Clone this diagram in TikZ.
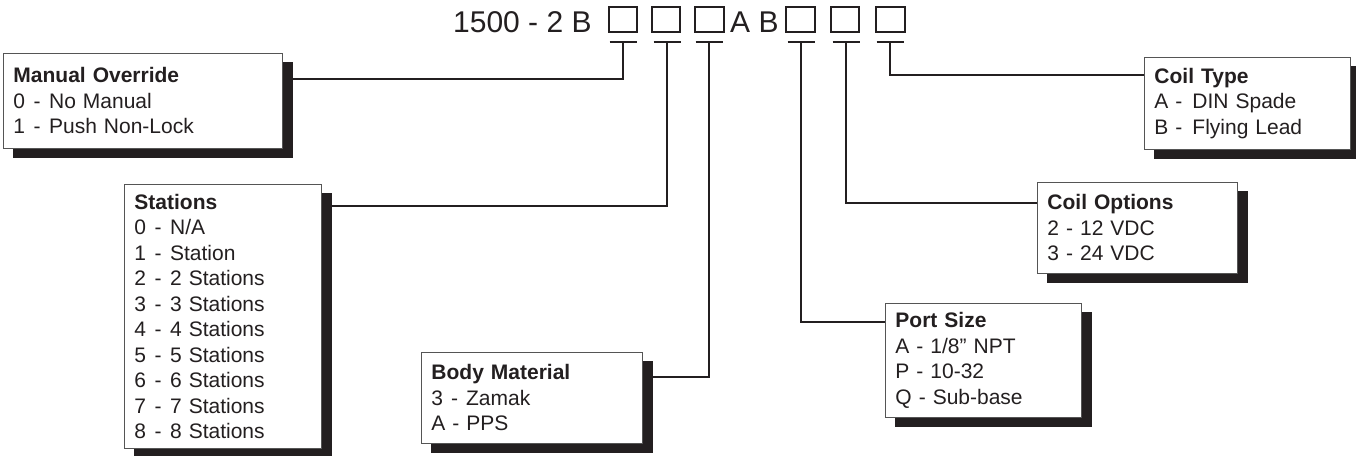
\documentclass[tikz,border=0pt]{standalone}
\usepackage{fontspec}
\setmainfont{Liberation Sans}
\usetikzlibrary{shadows}
\definecolor{ink}{HTML}{231F20}
\definecolor{frame}{HTML}{555555}
\newcommand\dsep{\hspace{8.5pt}-\hspace{8.5pt}}
\begin{document}
\begin{tikzpicture}[x=1pt,y=-1pt,
  every node/.style={text=ink},
  optbox/.style={draw=frame, line width=0.9pt, fill=white, anchor=north west,
    align=left, inner xsep=10pt, inner ysep=0pt,
    font=\fontsize{21}{25.5}\selectfont,
    general shadow={fill=ink, draw=ink, shadow xshift=10pt, shadow yshift=-9pt}},
  conn/.style={draw=ink, line width=2pt},
  sq/.style={draw=ink, line width=1.7pt, minimum width=28.5pt, minimum height=25pt, inner sep=0pt},
  code/.style={font=\fontsize{30}{30}\selectfont, anchor=base west, inner sep=0pt}]
\useasboundingbox (0,0) rectangle (1356,455);

% code line
\node[code] (t1) at (453,32) {1500 - 2 B};
\node[code] (t2) at (730,32) {A B};
\node[sq] (q1) at (623,19.5) {};
\node[sq] (q2) at (666,19.5) {};
\node[sq] (q3) at (709.5,19.5) {};
\node[sq] (q4) at (800.5,19.5) {};
\node[sq] (q5) at (845,19.5) {};
\node[sq] (q6) at (890.5,19.5) {};

\coordinate (b1) at (623,42);
\coordinate (b2) at (667,42);
\coordinate (b3) at (709,42);
\coordinate (b4) at (801,42);
\coordinate (b5) at (846,42);
\coordinate (b6) at (890,42);
\foreach \b in {b1,b2,b3,b4,b5,b6}
  \draw[conn] ([xshift=-13.5pt]\b) -- ([xshift=13.5pt]\b);

% option boxes
\node[optbox, minimum width=279pt, minimum height=95pt, text width=259pt] (mo) at (3,53)
  {\textbf{Manual Override}\\0\dsep No Manual\\1\dsep Push Non-Lock};
\node[optbox, minimum width=197pt, minimum height=264pt, text width=177pt] (st) at (124,184)
  {\textbf{Stations}\\0\dsep N/A\\1\dsep Station\\2\dsep 2 Stations\\3\dsep 3 Stations\\4\dsep 4 Stations\\5\dsep 5 Stations\\6\dsep 6 Stations\\7\dsep 7 Stations\\8\dsep 8 Stations};
\node[optbox, minimum width=221pt, minimum height=91pt, text width=201pt] (bm) at (421,352)
  {\textbf{Body Material}\\3\hspace{8pt}-\hspace{8pt}Zamak\\A - PPS};
\node[optbox, minimum width=196pt, minimum height=114pt, text width=176pt] (ps) at (885,303)
  {\textbf{Port Size}\\A - 1/8” NPT\\P - 10-32\\Q - Sub-base};
\node[optbox, minimum width=200pt, minimum height=91pt, text width=180pt] (co) at (1037,182)
  {\textbf{Coil Options}\\2 - 12 VDC\\3 - 24 VDC};
\node[optbox, minimum width=206pt, minimum height=92pt, text width=186pt] (ct) at (1144,57)
  {\textbf{Coil Type}\\A -\hspace{10pt}DIN Spade\\B -\hspace{10pt}Flying Lead};

% connectors
\draw[conn] (b1) |- (mo.east |- 0,79);
\draw[conn] (b2) |- (st.east |- 0,206);
\draw[conn] (b3) |- (bm.east |- 0,377);
\draw[conn] (b4) |- (ps.west |- 0,322);
\draw[conn] (b5) |- (co.west |- 0,203);
\draw[conn] (b6) |- (ct.west |- 0,75);
\end{tikzpicture}
\end{document}
